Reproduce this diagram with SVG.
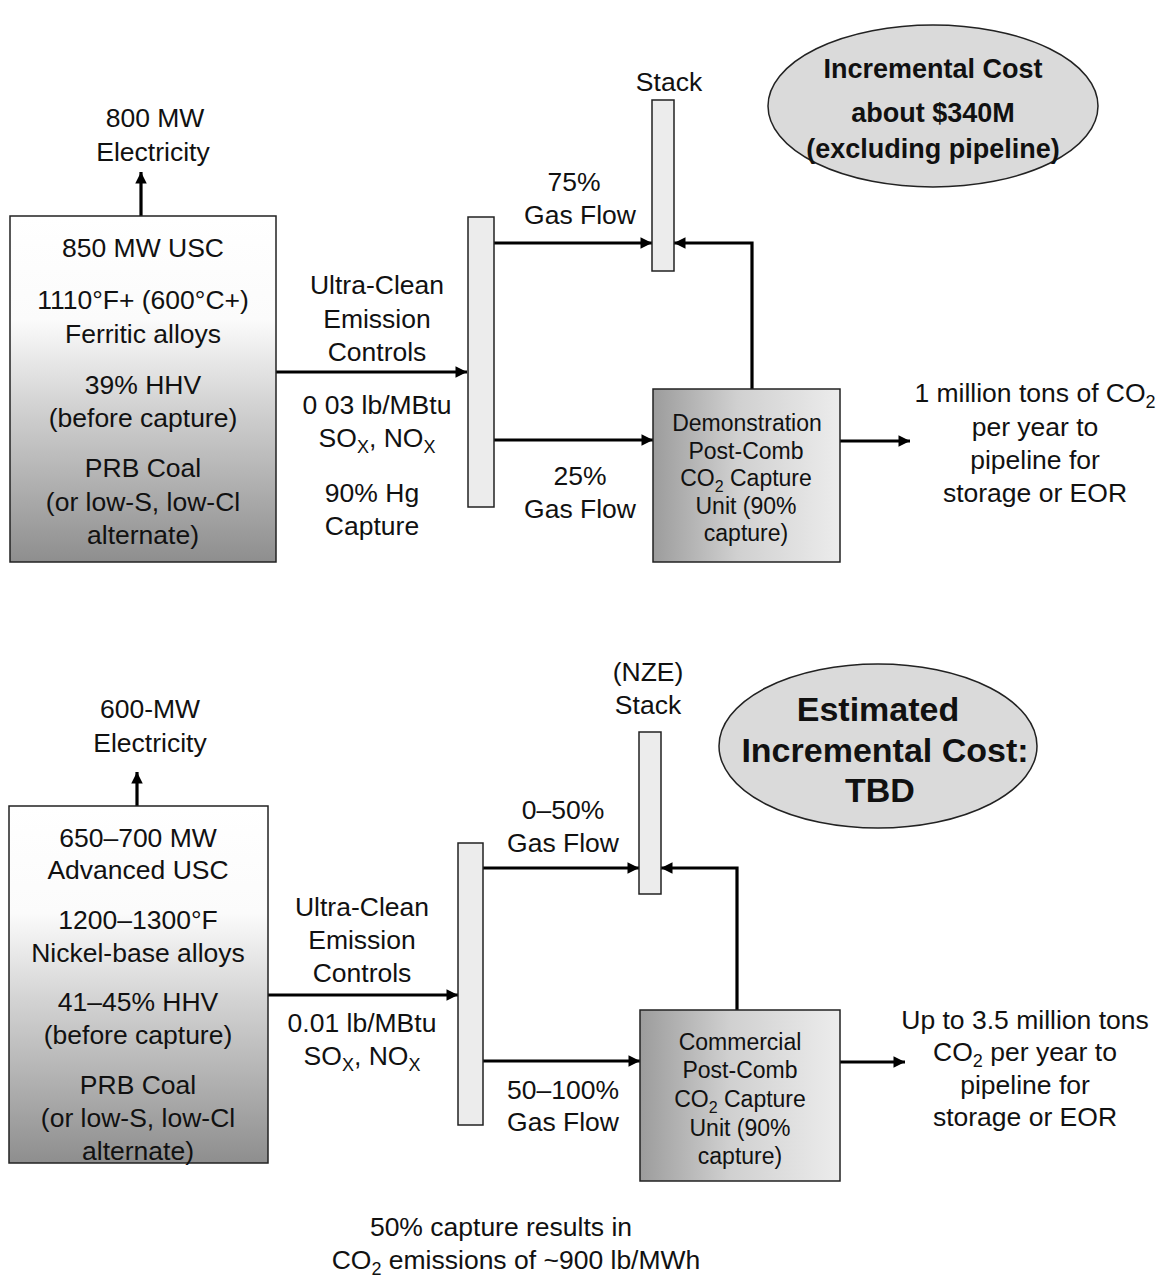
<svg xmlns="http://www.w3.org/2000/svg" width="1166" height="1277" viewBox="0 0 1166 1277">
<style>
text{font-family:"Liberation Sans",Arial,sans-serif;font-size:26.5px;fill:#111;text-anchor:middle}
.sm{font-size:23px}
.b{font-weight:bold;font-size:27px}
.bb{font-weight:bold;font-size:34px}
.ln{fill:none;stroke:#000;stroke-width:3.2}
.box{stroke:#222;stroke-width:1.5}
.bar{fill:#ececec;stroke:#222;stroke-width:1.5}
.ell{fill:#dadada;stroke:#222;stroke-width:1.5}
</style>
<defs>
<linearGradient id="plant" x1="0" y1="0" x2="0" y2="1">
<stop offset="0" stop-color="#ffffff"/>
<stop offset="0.3" stop-color="#fbfbfb"/>
<stop offset="0.55" stop-color="#d2d2d2"/>
<stop offset="1" stop-color="#8e8e8e"/>
</linearGradient>
<linearGradient id="cap" x1="0" y1="0" x2="1" y2="0">
<stop offset="0" stop-color="#9c9c9c"/>
<stop offset="0.45" stop-color="#d0d0d0"/>
<stop offset="1" stop-color="#ececec"/>
</linearGradient>
<marker id="ah" viewBox="0 0 10 10" refX="10" refY="5" markerWidth="4" markerHeight="3.6" orient="auto" markerUnits="strokeWidth">
<path d="M0,0 L10,5 L0,10 z" fill="#000"/>
</marker>
</defs>

<g id="connectors">
<line class="ln" x1="141" y1="216" x2="141" y2="172" marker-end="url(#ah)"/>
<line class="ln" x1="276" y1="372" x2="467" y2="372" marker-end="url(#ah)"/>
<line class="ln" x1="494" y1="243" x2="652" y2="243" marker-end="url(#ah)"/>
<line class="ln" x1="494" y1="440" x2="653" y2="440" marker-end="url(#ah)"/>
<polyline class="ln" points="752,389 752,243 674,243" marker-end="url(#ah)"/>
<line class="ln" x1="840" y1="441" x2="910" y2="441" marker-end="url(#ah)"/>

<line class="ln" x1="137" y1="806" x2="137" y2="772" marker-end="url(#ah)"/>
<line class="ln" x1="268" y1="995" x2="458" y2="995" marker-end="url(#ah)"/>
<line class="ln" x1="483" y1="868" x2="639" y2="868" marker-end="url(#ah)"/>
<line class="ln" x1="483" y1="1061" x2="640" y2="1061" marker-end="url(#ah)"/>
<polyline class="ln" points="737,1010 737,868 661,868" marker-end="url(#ah)"/>
<line class="ln" x1="840" y1="1062" x2="905" y2="1062" marker-end="url(#ah)"/>
</g>

<!-- TOP -->
<g id="electricity-top">
<text x="155" y="127">800 MW</text>
<text x="153" y="161">Electricity</text>
</g>
<g id="plant-top">
<rect class="box" x="10" y="216" width="266" height="346" fill="url(#plant)"/>
<text x="143" y="257">850 MW USC</text>
<text x="143" y="309">1110°F+ (600°C+)</text>
<text x="143" y="343">Ferritic alloys</text>
<text x="143" y="394">39% HHV</text>
<text x="143" y="427">(before capture)</text>
<text x="143" y="477">PRB Coal</text>
<text x="143" y="511">(or low-S, low-Cl</text>
<text x="143" y="544">alternate)</text>
</g>
<g id="controls-top">
<text x="377" y="294">Ultra-Clean</text>
<text x="377" y="328">Emission</text>
<text x="377" y="361">Controls</text>
<text x="377" y="414">0 03 lb/MBtu</text>
<text x="377" y="447">SO<tspan font-size="18" dy="6">X</tspan><tspan dy="-6">, NO</tspan><tspan font-size="18" dy="6">X</tspan></text>
<text x="372" y="502">90% Hg</text>
<text x="372" y="535">Capture</text>
</g>
<g id="splitter-top">
<rect class="bar" x="468" y="217" width="26" height="290"/>
</g>
<g id="stack-top">
<text x="669" y="91">Stack</text>
<rect class="bar" x="652" y="100" width="22" height="171"/>
</g>
<g id="flow-labels-top">
<text x="574" y="191">75%</text>
<text x="580" y="224">Gas Flow</text>
<text x="580" y="485">25%</text>
<text x="580" y="518">Gas Flow</text>
</g>
<g id="capture-top">
<rect class="box" x="653" y="389" width="187" height="173" fill="url(#cap)"/>
<text class="sm" x="747" y="431">Demonstration</text>
<text class="sm" x="746" y="459">Post-Comb</text>
<text class="sm" x="746" y="486">CO<tspan font-size="16" dy="6">2</tspan><tspan dy="-6"> Capture</tspan></text>
<text class="sm" x="746" y="514">Unit (90%</text>
<text class="sm" x="746" y="541">capture)</text>
</g>
<g id="output-top">
<text x="1035" y="402">1 million tons of CO<tspan font-size="18" dy="6">2</tspan></text>
<text x="1035" y="436">per year to</text>
<text x="1035" y="469">pipeline for</text>
<text x="1035" y="502">storage or EOR</text>
</g>
<g id="cost-top">
<ellipse class="ell" cx="933" cy="106" rx="165" ry="81"/>
<text class="b" x="933" y="78">Incremental Cost</text>
<text class="b" x="933" y="122">about $340M</text>
<text class="b" x="933" y="158">(excluding pipeline)</text>
</g>

<!-- BOTTOM -->
<g id="electricity-bottom">
<text x="150" y="718">600-MW</text>
<text x="150" y="752">Electricity</text>
</g>
<g id="plant-bottom">
<rect class="box" x="9" y="806" width="259" height="357" fill="url(#plant)"/>
<text x="138" y="847">650–700 MW</text>
<text x="138" y="879">Advanced USC</text>
<text x="138" y="929">1200–1300°F</text>
<text x="138" y="962">Nickel-base alloys</text>
<text x="138" y="1011">41–45% HHV</text>
<text x="138" y="1044">(before capture)</text>
<text x="138" y="1094">PRB Coal</text>
<text x="138" y="1127">(or low-S, low-Cl</text>
<text x="138" y="1160">alternate)</text>
</g>
<g id="controls-bottom">
<text x="362" y="916">Ultra-Clean</text>
<text x="362" y="949">Emission</text>
<text x="362" y="982">Controls</text>
<text x="362" y="1032">0.01 lb/MBtu</text>
<text x="362" y="1065">SO<tspan font-size="18" dy="6">X</tspan><tspan dy="-6">, NO</tspan><tspan font-size="18" dy="6">X</tspan></text>
</g>
<g id="splitter-bottom">
<rect class="bar" x="458" y="843" width="25" height="282"/>
</g>
<g id="stack-bottom">
<text x="648" y="681">(NZE)</text>
<text x="648" y="714">Stack</text>
<rect class="bar" x="639" y="732" width="22" height="162"/>
</g>
<g id="flow-labels-bottom">
<text x="563" y="819">0–50%</text>
<text x="563" y="852">Gas Flow</text>
<text x="563" y="1099">50–100%</text>
<text x="563" y="1131">Gas Flow</text>
</g>
<g id="capture-bottom">
<rect class="box" x="640" y="1010" width="200" height="171" fill="url(#cap)"/>
<text class="sm" x="740" y="1050">Commercial</text>
<text class="sm" x="740" y="1078">Post-Comb</text>
<text class="sm" x="740" y="1107">CO<tspan font-size="16" dy="6">2</tspan><tspan dy="-6"> Capture</tspan></text>
<text class="sm" x="740" y="1136">Unit (90%</text>
<text class="sm" x="740" y="1164">capture)</text>
</g>
<g id="output-bottom">
<text x="1025" y="1029">Up to 3.5 million tons</text>
<text x="1025" y="1061">CO<tspan font-size="18" dy="6">2</tspan><tspan dy="-6"> per year to</tspan></text>
<text x="1025" y="1094">pipeline for</text>
<text x="1025" y="1126">storage or EOR</text>
</g>
<g id="cost-bottom">
<ellipse class="ell" cx="878" cy="746" rx="159" ry="82"/>
<text class="bb" x="878" y="721">Estimated</text>
<text class="bb" x="885" y="762">Incremental Cost:</text>
<text class="bb" x="880" y="802">TBD</text>
</g>
<g id="note">
<text x="501" y="1236">50% capture results in</text>
<text x="516" y="1269">CO<tspan font-size="18" dy="6">2</tspan><tspan dy="-6"> emissions of ~900 lb/MWh</tspan></text>
</g>
</svg>
